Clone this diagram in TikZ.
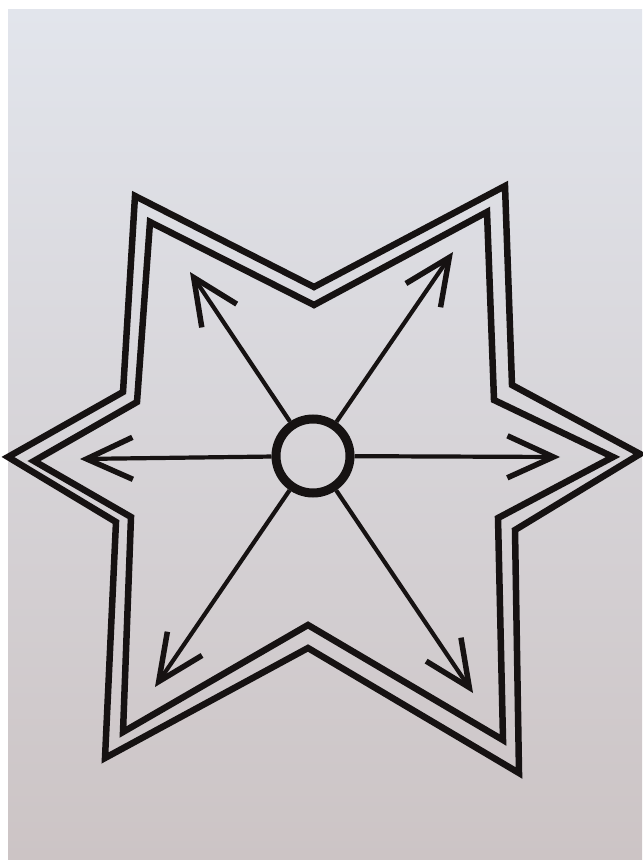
\documentclass[tikz,border=0pt]{standalone}
\usepackage{xcolor}
\usetikzlibrary{arrows.meta, positioning}

\definecolor{paperTop}{RGB}{226,229,236}
\definecolor{paperBottom}{RGB}{204,196,197}
\definecolor{ink}{RGB}{22,18,18}

\begin{document}
\begin{tikzpicture}[x=0.1mm, y=-0.1mm,
    >={Straight Barb[length=4.6mm, width=4.2mm, line width=0.55mm]},
    outline/.style={draw=ink, line width=0.65mm, line join=miter},
    spoke/.style={->, draw=ink, line width=0.42mm}]
        % --- Paper ---
        \useasboundingbox (0,0) rectangle (642,860);
        \fill[white] (0,0) rectangle (642,860);
        \shade[top color=paperTop, bottom color=paperBottom] (8,10) rectangle (642,860);

        % --- Outer outline of the star ---
        \draw[outline] (135,196) -- (314,287) -- (505,186) -- (512,385) -- (640,454)
            -- (515,530) -- (519,773) -- (308,648) -- (105,758) -- (116,522)
            -- (8,457) -- (123,392) -- cycle;

        % --- Inner outline of the star ---
        \draw[outline] (150,222) -- (314,305) -- (487,212) -- (494,400) -- (613,457)
            -- (498,518) -- (503,740) -- (308,625) -- (123,732) -- (131,517)
            -- (34,461) -- (137,402) -- cycle;

        % --- Hub ---
        \node[circle, draw=ink, line width=0.9mm, minimum size=7.4mm, inner sep=0pt] (hub) at (313,456) {};

        % --- Arrow tips ---
        \coordinate (tip_ul) at (190,272);
        \coordinate (tip_ur) at (453,252);
        \coordinate (tip_r) at (560,457);
        \coordinate (tip_lr) at (473,693);
        \coordinate (tip_ll) at (155,687);
        \coordinate (tip_l) at (80,459);

        % --- Spokes ---
        \foreach \t in {tip_ul, tip_ur, tip_r, tip_lr, tip_ll, tip_l}
            \draw[spoke] (hub) -- (\t);
\end{tikzpicture}
\end{document}
